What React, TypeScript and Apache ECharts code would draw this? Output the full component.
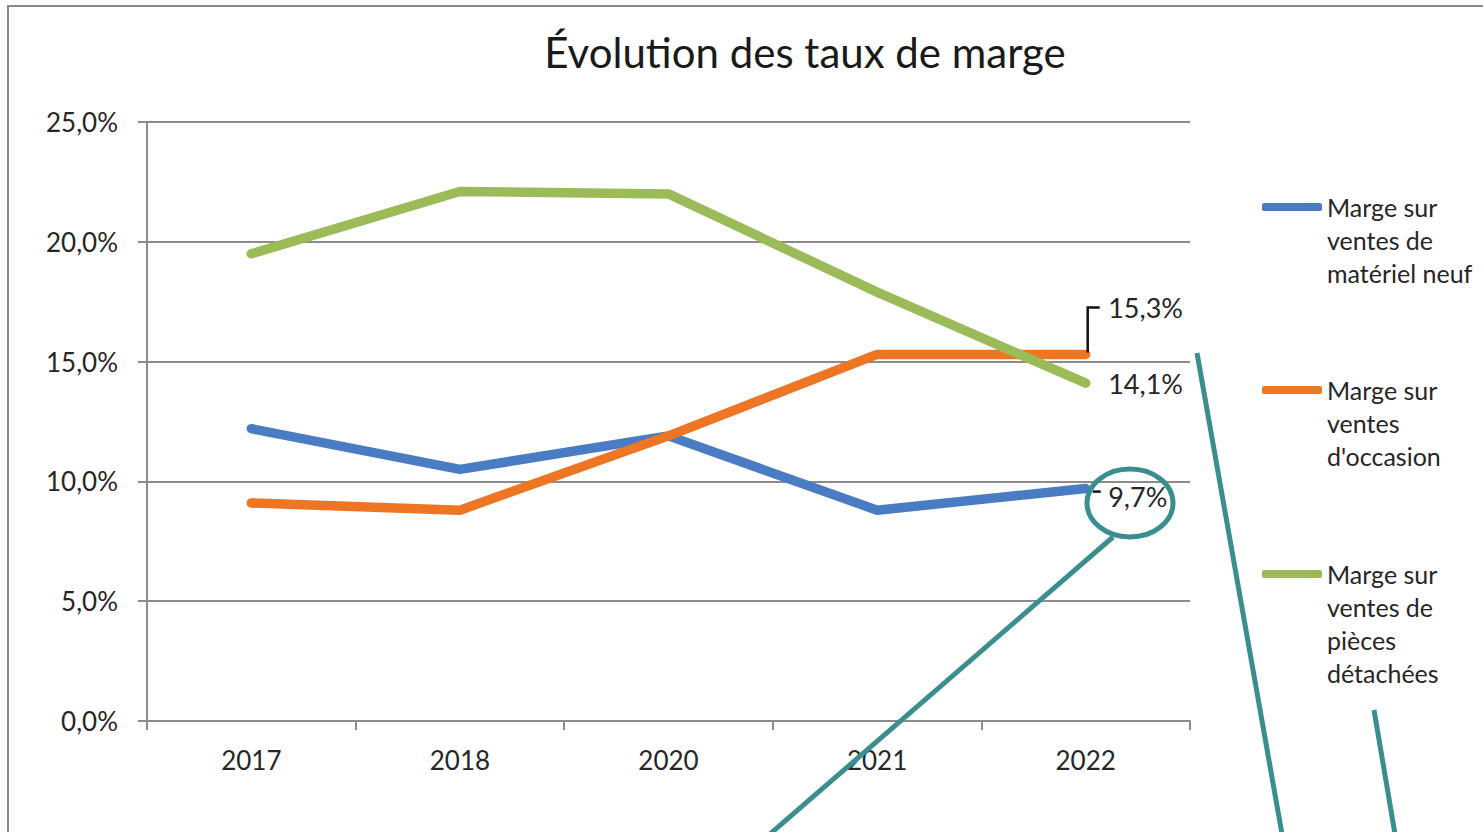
import React, { useEffect, useRef } from "react";
import * as echarts from "echarts";

const years = ["2017", "2018", "2020", "2021", "2022"];
const neuf = [12.2, 10.5, 11.9, 8.8, 9.7];
const occasion = [9.1, 8.8, 11.9, 15.3, 15.3];
const pieces = [19.5, 22.1, 22.0, 17.9, 14.1];
const seriesNames = [
  "Marge sur\nventes de\nmatériel neuf",
  "Marge sur\nventes\nd'occasion",
  "Marge sur\nventes de\npièces\ndétachées",
];
const colors = ["#4A7CC4", "#EE7524", "#9BBB59"];
const yMin = 0;
const yMax = 25;
const yInterval = 5;
const titleText = "Évolution des taux de marge";

const FONT = "Lato";
const fmt = (v: number) => v.toFixed(1).replace(".", ",") + "%";

export default function App() {
  const ref = useRef<HTMLDivElement>(null);
  useEffect(() => {
    if (!ref.current) return;
    const chart = echarts.init(ref.current, undefined, { renderer: "svg" });
    const L = 33;
    const lastIdx = years.length - 1;
    const mkData = (vals: number[]) =>
      vals.map((v, i) => (i === lastIdx ? { value: v, label: { show: true } } : v));
    const labelStyle = {
      show: false,
      position: "right",
      distance: 22,
      formatter: (p: any) => fmt(p.value),
      fontFamily: FONT,
      fontSize: 27,
      color: "#262626",
    };
    const legendFor = (i: number, iconY: number) => {
      const lines = seriesNames[i].split("\n").length;
      const total = 2 * lines - 1;
      return {
        data: [seriesNames[i]],
        formatter: (name: string) => "\n".repeat(lines - 1) + name,
        left: 1262,
        top: iconY - (total * L) / 2,
        padding: 0,
        orient: "vertical",
        icon: "roundRect",
        itemWidth: 60,
        itemHeight: 8,
        selectedMode: false,
        textStyle: { fontFamily: FONT, fontSize: 25, lineHeight: L, color: "#262626" },
      };
    };
    const mkSeries = (i: number, vals: number[], extra: any) => ({
      name: seriesNames[i],
      type: "line",
      data: mkData(vals),
      symbol: "circle",
      symbolSize: 1,
      showSymbol: true,
      itemStyle: { color: colors[i] },
      lineStyle: { color: colors[i], width: 9.5, cap: "round", join: "round" },
      label: labelStyle,
      ...extra,
    });
    chart.setOption({
      animation: false,
      backgroundColor: "#ffffff",
      title: {
        text: titleText,
        left: 800,
        top: 26,
        textAlign: "center",
        textStyle: { fontFamily: FONT, fontSize: 42, fontWeight: "normal", color: "#1a1a1a" },
      },
      legend: [legendFor(0, 207), legendFor(1, 390), legendFor(2, 574)],
      grid: { left: 147, right: 293, top: 122, bottom: 111, containLabel: false },
      xAxis: {
        type: "category",
        data: years,
        boundaryGap: true,
        axisLine: { lineStyle: { color: "#8c8c8c", width: 2 } },
        axisTick: { show: true, length: 9, lineStyle: { color: "#8c8c8c", width: 2 } },
        axisLabel: { fontFamily: FONT, fontSize: 26, color: "#262626", margin: 26 },
      },
      yAxis: {
        type: "value",
        min: yMin,
        max: yMax,
        interval: yInterval,
        axisLine: { show: true, lineStyle: { color: "#8c8c8c", width: 2 } },
        axisTick: { show: true, length: 9, lineStyle: { color: "#8c8c8c", width: 2 } },
        splitLine: { lineStyle: { color: "#8c8c8c", width: 2 } },
        axisLabel: {
          fontFamily: FONT,
          fontSize: 26,
          color: "#262626",
          margin: 29,
          formatter: (v: number) => fmt(v),
        },
      },
      series: [
        mkSeries(0, neuf, { labelLayout: { dy: 8 } }),
        mkSeries(1, occasion, { labelLayout: { dy: -47 } }),
        mkSeries(2, pieces, {}),
      ],
    });
    // leader lines for the data labels, anchored on the library's pixel positions
    const pO = chart.convertToPixel({ seriesIndex: 1 }, [lastIdx, occasion[lastIdx]]) as number[];
    const pB = chart.convertToPixel({ seriesIndex: 0 }, [lastIdx, neuf[lastIdx]]) as number[];
    chart.setOption({
      graphic: [
        {
          type: "rect",
          z: 0,
          silent: true,
          shape: { x: 8, y: 6, width: 1600, height: 1000 },
          style: { fill: "none", stroke: "#8a8a8a", lineWidth: 2 },
        },
        {
          type: "polyline",
          z: 50,
          silent: true,
          shape: {
            points: [
              [pO[0] + 2, pO[1] - 2],
              [pO[0] + 2, pO[1] - 47],
              [pO[0] + 14, pO[1] - 47],
            ],
          },
          style: { stroke: "#111", lineWidth: 2.5, fill: "none" },
        },
        {
          type: "line",
          z: 50,
          silent: true,
          shape: { x1: pB[0] + 7, y1: pB[1] + 3, x2: pB[0] + 15, y2: pB[1] + 3 },
          style: { stroke: "#111", lineWidth: 2.5 },
        },
        {
          type: "ellipse",
          z: 100,
          silent: true,
          shape: { cx: 1130, cy: 503, rx: 43, ry: 34 },
          style: { fill: "none", stroke: "#3B8E8F", lineWidth: 5 },
        },
        {
          type: "line",
          z: 100,
          silent: true,
          shape: { x1: 1113, y1: 537, x2: 770, y2: 834 },
          style: { stroke: "#3B8E8F", lineWidth: 5 },
        },
        {
          type: "line",
          z: 100,
          silent: true,
          shape: { x1: 1197, y1: 353, x2: 1282, y2: 834 },
          style: { stroke: "#3B8E8F", lineWidth: 5 },
        },
        {
          type: "line",
          z: 100,
          silent: true,
          shape: { x1: 1374, y1: 710, x2: 1395, y2: 834 },
          style: { stroke: "#3B8E8F", lineWidth: 5 },
        },
      ],
    });
    return () => chart.dispose();
  }, []);
  return (
    <div
      ref={ref}
      style={{ position: "fixed", left: 0, top: 0, width: 1483, height: 832, background: "#fff" }}
    />
  );
}
